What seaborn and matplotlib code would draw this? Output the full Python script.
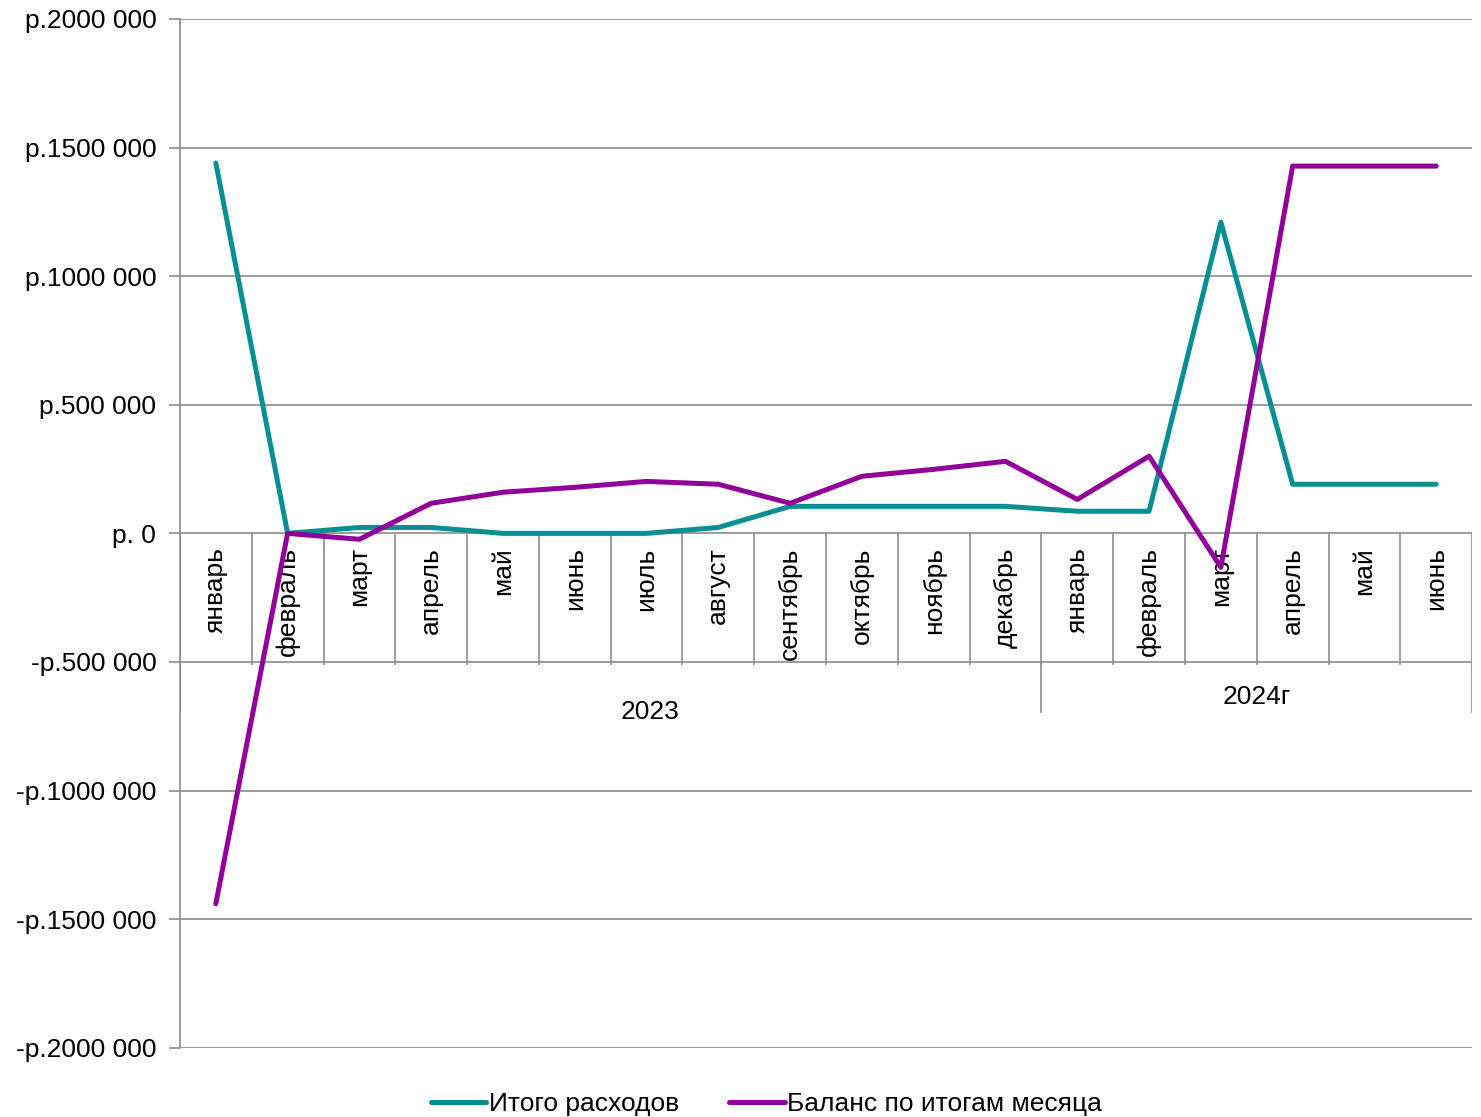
import pandas as pd
import matplotlib.pyplot as plt
import matplotlib.ticker as mticker
import seaborn as sns

# Данные
months = ["январь", "февраль", "март", "апрель", "май", "июнь", "июль", "август",
          "сентябрь", "октябрь", "ноябрь", "декабрь",
          "январь", "февраль", "март", "апрель", "май", "июнь"]
year_labels = ["2023", "2024г"]
year_sizes = [12, 6]
expenses = [1440000, 0, 23000, 23000, 0, 0, 0, 23000, 105000, 105000, 105000, 105000,
            86000, 86000, 1210000, 191000, 191000, 191000]
balance = [-1440000, 0, -23000, 117000, 160000, 179000, 202000, 191000, 117000,
           222000, 249000, 280000, 132000, 300000, -132000, 1428000, 1428000, 1428000]
series_names = ["Итого расходов", "Баланс по итогам месяца"]

pos = list(range(len(months)))
df = pd.DataFrame({
    "pos": pos * 2,
    "value": expenses + balance,
    "series": [series_names[0]] * len(pos) + [series_names[1]] * len(pos),
})

sns.set_style("white")
plt.rcParams["font.family"] = ["Liberation Sans", "DejaVu Sans"]
plt.rcParams["font.size"] = 19
plt.rcParams["text.color"] = "black"

fig, ax = plt.subplots(figsize=(14.81, 11.17), dpi=100)
fig.subplots_adjust(left=0.1215, right=0.994, top=0.983, bottom=0.062)

grid_col = "#8c8c8c"
sns.lineplot(data=df, x="pos", y="value", hue="series",
             palette=["#078f94", "#910098"], linewidth=3.6, ax=ax, zorder=3)

ax.set_xlim(-0.5, len(months) - 0.5)
ax.set_ylim(-2000000, 2000000)
ax.set_yticks(range(-2000000, 2000001, 500000))


def rub(v, _):
    if v == 0:
        return "р. 0"
    s = "р.%d %03d" % (abs(v) // 1000, abs(v) % 1000)
    return "-" + s if v < 0 else s


ax.yaxis.set_major_formatter(mticker.FuncFormatter(rub))
ax.yaxis.grid(True, color=grid_col, lw=1.2)
ax.tick_params(axis="y", left=True, length=8, width=1.2, color=grid_col, pad=9,
               labelsize=19, labelcolor="black")
ax.set_xticks([])
ax.set_xlabel("")
ax.set_ylabel("")
for s in ["top", "right", "bottom"]:
    ax.spines[s].set_visible(False)
ax.spines["left"].set_color(grid_col)
ax.spines["left"].set_linewidth(1.2)

# подписи месяцев в ячейках
ax.vlines([p - 0.5 for p in range(len(months) + 1)], -510000, 0, color=grid_col, lw=1.2, zorder=1)
for p, m in zip(pos, months):
    ax.annotate(m, xy=(p, 0), xytext=(0, -10), textcoords="offset points",
                rotation=90, ha="center", va="top", fontsize=19, zorder=1)

# подписи годов
edges = [-0.5]
for n in year_sizes:
    edges.append(edges[-1] + n)
ax.vlines(edges, -700000, -500000, color=grid_col, lw=1.2, zorder=1)
ax.text(6.05, -693000, year_labels[0], ha="center", va="center", fontsize=19)
ax.text(14.5, -638000, year_labels[1], ha="center", va="center", fontsize=19)

sns.move_legend(ax, "center", bbox_to_anchor=(0.454, -0.055), ncol=2, frameon=False,
                title=None, fontsize=19, handlelength=2.1, handletextpad=0.1,
                columnspacing=1.9)

fig.savefig("out.png", dpi=100)
